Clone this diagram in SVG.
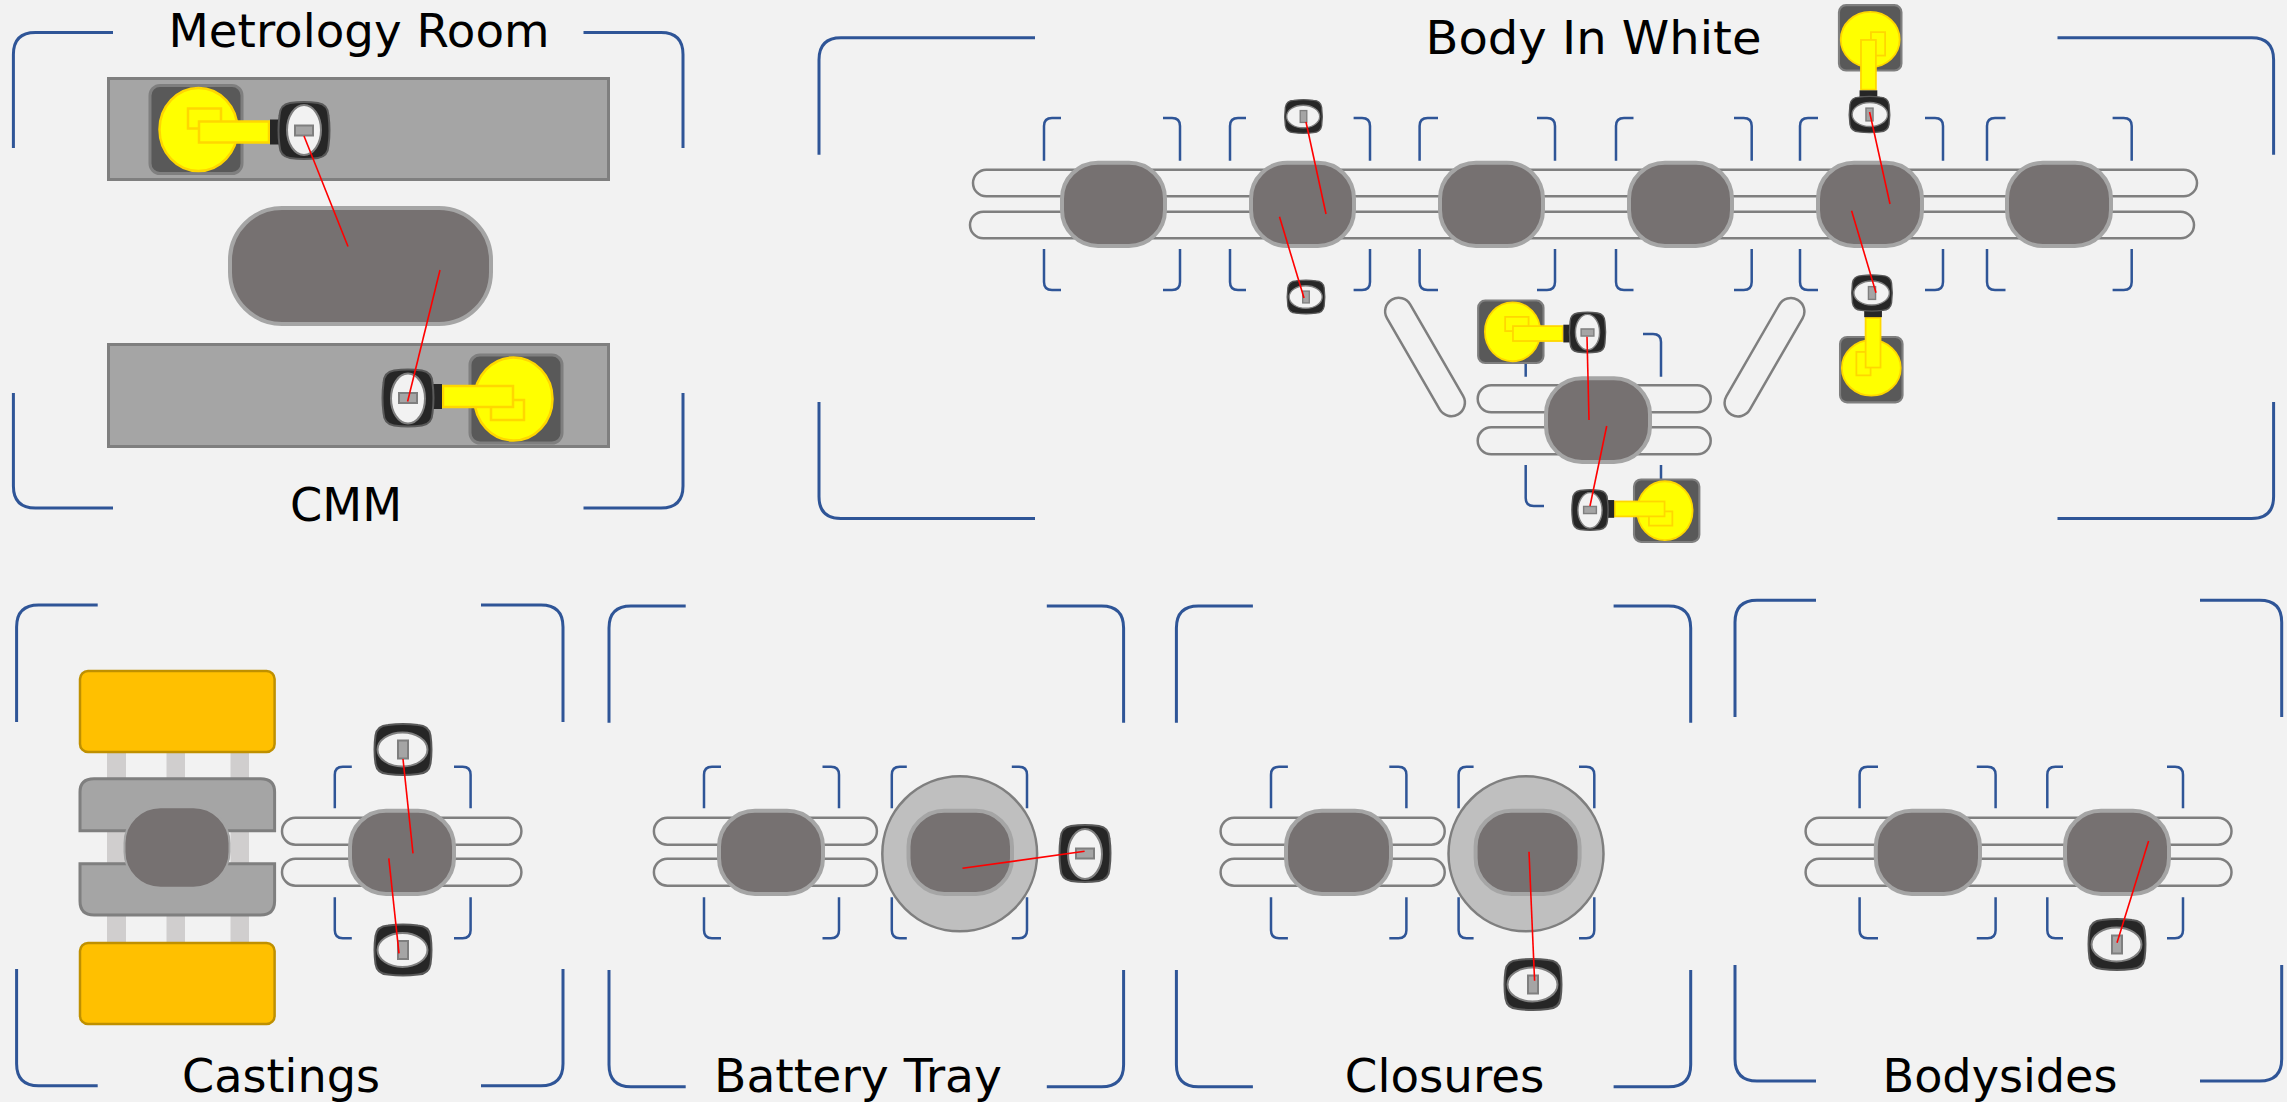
<svg xmlns="http://www.w3.org/2000/svg" width="2287" height="1102" viewBox="0 0 2287 1102">
<style>
.frame{fill:none;stroke:#2f5597;stroke-width:3}
.br{fill:none;stroke:#2f5597;stroke-width:2.5}
.rail{fill:#f2f2f2;stroke:#7f7f7f;stroke-width:2.5}
.cell{fill:#767171;stroke:#a5a5a5;stroke-width:4}
.plate{fill:#a5a5a5;stroke:#7f7f7f;stroke-width:3}
.turn{fill:#bfbfbf;stroke:#7f7f7f;stroke-width:2.5}
.orange{fill:#ffc000;stroke:#bf9000;stroke-width:2.5}
.stem{fill:#d0cece}
.link{stroke:#f00;stroke-width:1.6;fill:none}
.t{font-family:"DejaVu Sans","Noto Sans",sans-serif;font-size:47px;fill:#000}
.hb{fill:#262626;stroke:#595959;stroke-width:2}
.he{fill:#f2f2f2;stroke:#7f7f7f;stroke-width:2}
.hr{fill:#a5a5a5;stroke:#7f7f7f;stroke-width:2}
.ba{fill:#595959;stroke:#7f7f7f;stroke-width:3}
.ye{fill:#ff0;stroke:#ffd700;stroke-width:2.5}
.co{fill:#262626}
</style>
<defs>
<g id="head">
<path class="hb" d="M-14-27.500Q0-29.500 14-27.500Q24-26 24.500-15Q26.500 0 24.500 15Q24 26 14 27.500Q0 29.500-14 27.500Q-24 26-24.500 15Q-26.500 0-24.500-15Q-24-26-14-27.500Z"/>
<ellipse class="he" cx="0" cy="0.500" rx="17" ry="25"/>
<rect class="hr" x="-9" y="-5" width="18" height="10"/>
</g>
<g id="arm">
<rect class="ba" x="62" y="-43" width="92" height="88" rx="10"/>
<ellipse class="ye" cx="105.500" cy="1" rx="39" ry="41.500"/>
<rect class="ye" x="83" y="2" width="33" height="20" style="fill:none"/>
<rect class="ye" x="35" y="-12" width="70" height="21"/>
<rect class="co" x="25" y="-14" width="9" height="25"/>
<use href="#head"/>
</g>
</defs>
<rect width="2287" height="1102" fill="#f2f2f2"/>

<g id="metrology-room">
<path class="frame" d="M113 32.400H35.400Q13.400 32.400 13.400 54.400V148M583.500 32.400H661Q683 32.400 683 54.400V148M13.400 393V486Q13.400 508 35.400 508H113M683 393V486Q683 508 661 508H583.500"/>
<rect class="plate" x="108.500" y="78.500" width="500" height="101"/>
<rect class="plate" x="108.500" y="344.500" width="500" height="102"/>
<rect class="cell" x="230" y="208" width="261" height="116" rx="52"/>
<use href="#arm" transform="translate(304 130.500) rotate(180)"/>
<use href="#arm" transform="translate(408 398)"/>
<text class="t" x="168.500" y="46.500" textLength="381" lengthAdjust="spacingAndGlyphs">Metrology Room</text>
<text class="t" x="290" y="520.600" textLength="112" lengthAdjust="spacingAndGlyphs">CMM</text>
</g>

<g id="body-in-white">
<path class="frame" d="M1035 37.700H841Q819 37.700 819 59.700V154.700M2057.500 37.700H2251.600Q2273.600 37.700 2273.600 59.700V154.700M819 402V496.500Q819 518.500 841 518.500H1035M2273.600 402V496.500Q2273.600 518.500 2251.600 518.500H2057.500"/>
<rect class="rail" x="973" y="169.700" width="1224" height="26.600" rx="13.300"/>
<rect class="rail" x="970" y="211.700" width="1224" height="26.600" rx="13.300"/>
<path class="br" d="M1061 118H1052Q1044 118 1044 126V160.700M1163 118H1172Q1180 118 1180 126V160.700M1044 249V282Q1044 290 1052 290H1061M1180 249V282Q1180 290 1172 290H1163"/>
<path class="br" d="M1246 118H1238Q1230 118 1230 126V160.700M1353.600 118H1362Q1370 118 1370 126V160.700M1230 249V282Q1230 290 1238 290H1246M1370 249V282Q1370 290 1362 290H1353.600"/>
<path class="br" d="M1438 118H1427.600Q1419.600 118 1419.600 126V160.700M1537 118H1547Q1555 118 1555 126V160.700M1419.600 249V282Q1419.600 290 1427.600 290H1438M1555 249V282Q1555 290 1547 290H1537"/>
<path class="br" d="M1633.500 118H1624Q1616 118 1616 126V160.700M1734 118H1743.700Q1751.700 118 1751.700 126V160.700M1616 249V282Q1616 290 1624 290H1633.500M1751.700 249V282Q1751.700 290 1743.700 290H1734"/>
<path class="br" d="M1818 118H1808Q1800 118 1800 126V160.700M1925 118H1935Q1943 118 1943 126V160.700M1800 249V282Q1800 290 1808 290H1818M1943 249V282Q1943 290 1935 290H1925"/>
<path class="br" d="M2005.500 118H1995Q1987 118 1987 126V160.700M2112.600 118H2123.700Q2131.700 118 2131.700 126V160.700M1987 249V282Q1987 290 1995 290H2005.500M2131.700 249V282Q2131.700 290 2123.700 290H2112.600"/>
<rect id="biw-cell-1" class="cell" x="1062" y="162.700" width="103" height="83.300" rx="36"/>
<rect id="biw-cell-2" class="cell" x="1251" y="162.700" width="103" height="83.300" rx="36"/>
<rect id="biw-cell-3" class="cell" x="1440" y="162.700" width="103" height="83.300" rx="36"/>
<rect id="biw-cell-4" class="cell" x="1629" y="162.700" width="103" height="83.300" rx="36"/>
<rect id="biw-cell-5" class="cell" x="1818" y="162.700" width="104" height="83.300" rx="36"/>
<rect id="biw-cell-6" class="cell" x="2007" y="162.700" width="104" height="83.300" rx="36"/>
<use href="#head" transform="translate(1303.500 116.500) rotate(90) scale(.66)"/>
<use href="#head" transform="translate(1306 297) rotate(90) scale(.66)"/>
<use href="#arm" transform="translate(1869.500 114.500) rotate(-90) scale(.71)"/>
<use href="#arm" transform="translate(1872 293) rotate(90) scale(.71)"/>
<rect class="rail" x="-66.250" y="-13.500" width="132.500" height="27" rx="13.500" transform="translate(1425 357) rotate(60)"/>
<rect class="rail" x="-66.250" y="-13.500" width="132.500" height="27" rx="13.500" transform="translate(1764.500 357.200) rotate(-60)"/>
<rect class="rail" x="1477.700" y="385.300" width="233" height="27" rx="13.500"/>
<rect class="rail" x="1477.700" y="427.300" width="233" height="27" rx="13.500"/>
<path class="br" d="M1544 334H1533.700Q1525.700 334 1525.700 342V376.700M1643 334H1653Q1661 334 1661 342V376.700M1525.700 465V498Q1525.700 506 1533.700 506H1544M1661 465V498Q1661 506 1653 506H1643"/>
<rect id="biw-cell-7" class="cell" x="1546" y="378.300" width="104" height="83.700" rx="36"/>
<use href="#arm" transform="translate(1587.500 332.500) rotate(180) scale(.71)"/>
<use href="#arm" transform="translate(1590 510) scale(.71)"/>
<text class="t" x="1425.500" y="54.300" textLength="336" lengthAdjust="spacingAndGlyphs">Body In White</text>
</g>

<g id="castings">
<path class="frame" d="M97.700 605H38.600Q16.600 605 16.600 627V722M481 605H541Q563 605 563 627V722M16.600 969V1063.700Q16.600 1085.700 38.600 1085.700H97.700M563 969V1063.700Q563 1085.700 541 1085.700H481"/>
<rect class="stem" x="107" y="753" width="19" height="189"/>
<rect class="stem" x="166.500" y="753" width="18.500" height="189"/>
<rect class="stem" x="230.500" y="753" width="18.500" height="189"/>
<rect class="orange" x="80" y="671" width="194.600" height="81" rx="8"/>
<rect class="orange" x="80" y="943" width="194.600" height="81" rx="8"/>
<path class="plate" d="M80 830.700V792Q80 778.700 94 778.700H260.600Q274.600 778.700 274.600 792V830.700Z"/>
<path class="plate" d="M80 863.700V901Q80 915 94 915H260.600Q274.600 915 274.600 901V863.700Z"/>
<rect class="cell" x="124.500" y="807.200" width="105" height="80.600" rx="36" style="stroke-width:2"/>
<rect class="rail" x="282" y="817.700" width="239.400" height="27" rx="13.500"/>
<rect class="rail" x="282" y="858.700" width="239.400" height="27" rx="13.500"/>
<path class="br" d="M351.800 766.700H342.800Q334.800 766.700 334.800 774.700V808.300M454 766.700H462.600Q470.600 766.700 470.600 774.700V808.300M334.800 897.300V930.300Q334.800 938.300 342.800 938.300H351.800M470.600 897.300V930.300Q470.600 938.300 462.600 938.300H454"/>
<rect class="cell" x="350" y="810.700" width="104" height="83.300" rx="36"/>
<use href="#head" transform="translate(403 749.500) rotate(90)"/>
<use href="#head" transform="translate(403 950) rotate(90)"/>
<text class="t" x="182" y="1091.700" textLength="198" lengthAdjust="spacingAndGlyphs">Castings</text>
</g>

<g id="battery-tray">
<path class="frame" d="M685.700 606H631Q609 606 609 628V722.700M1046.800 606H1101.600Q1123.600 606 1123.600 628V722.700M609 970V1064.700Q609 1086.700 631 1086.700H685.700M1123.600 970V1064.700Q1123.600 1086.700 1101.600 1086.700H1046.800"/>
<rect class="rail" x="653.900" y="817.700" width="223" height="27" rx="13.500"/>
<rect class="rail" x="653.900" y="858.700" width="223" height="27" rx="13.500"/>
<path class="br" d="M721 766.700H712Q704 766.700 704 774.700V808.300M822.500 766.700H831Q839 766.700 839 774.700V808.300M704 897.300V930.300Q704 938.300 712 938.300H721M839 897.300V930.300Q839 938.300 831 938.300H822.500"/>
<rect class="cell" x="719" y="810.700" width="104" height="83.300" rx="36"/>
<path class="br" d="M906.800 766.700H899.800Q891.800 766.700 891.800 774.700V808.300M1011.800 766.700H1019Q1027 766.700 1027 774.700V808.300M891.800 897.300V930.300Q891.800 938.300 899.800 938.300H906.800M1027 897.300V930.300Q1027 938.300 1019 938.300H1011.800"/>
<ellipse class="turn" cx="959.700" cy="853.800" rx="77.400" ry="77.500"/>
<rect class="cell" x="908.500" y="810.700" width="103.500" height="83.300" rx="36"/>
<use href="#head" transform="translate(1085 853.500)"/>
<text class="t" x="714" y="1091.700" textLength="288" lengthAdjust="spacingAndGlyphs">Battery Tray</text>
</g>

<g id="closures">
<path class="frame" d="M1252.900 606H1198.400Q1176.400 606 1176.400 628V722.700M1613.600 606H1668.700Q1690.700 606 1690.700 628V722.700M1176.400 970V1064.700Q1176.400 1086.700 1198.400 1086.700H1252.900M1690.700 970V1064.700Q1690.700 1086.700 1668.700 1086.700H1613.600"/>
<rect class="rail" x="1220.600" y="817.700" width="224.100" height="27" rx="13.500"/>
<rect class="rail" x="1220.600" y="858.700" width="224.100" height="27" rx="13.500"/>
<path class="br" d="M1287.900 766.700H1279Q1271 766.700 1271 774.700V808.300M1389.300 766.700H1398.400Q1406.400 766.700 1406.400 774.700V808.300M1271 897.300V930.300Q1271 938.300 1279 938.300H1287.900M1406.400 897.300V930.300Q1406.400 938.300 1398.400 938.300H1389.300"/>
<rect class="cell" x="1286" y="810.700" width="105" height="83.300" rx="36"/>
<path class="br" d="M1473.600 766.700H1466.600Q1458.600 766.700 1458.600 774.700V808.300M1579 766.700H1586.300Q1594.300 766.700 1594.300 774.700V808.300M1458.600 897.300V930.300Q1458.600 938.300 1466.600 938.300H1473.600M1594.300 897.300V930.300Q1594.300 938.300 1586.300 938.300H1579"/>
<ellipse class="turn" cx="1526" cy="853.800" rx="77.500" ry="77.500"/>
<rect class="cell" x="1475.600" y="810.700" width="104" height="83.300" rx="36"/>
<use href="#head" transform="translate(1533 984.500) rotate(90)"/>
<text class="t" x="1344.800" y="1091.700" textLength="199.500" lengthAdjust="spacingAndGlyphs">Closures</text>
</g>

<g id="bodysides">
<path class="frame" d="M1816 600.300H1757Q1735 600.300 1735 622.300V717M2200 600.300H2259.700Q2281.700 600.300 2281.700 622.300V717M1735 965V1059Q1735 1081 1757 1081H1816M2281.700 965V1059Q2281.700 1081 2259.700 1081H2200"/>
<rect class="rail" x="1805.600" y="817.700" width="425.900" height="27" rx="13.500"/>
<rect class="rail" x="1805.600" y="858.700" width="425.900" height="27" rx="13.500"/>
<path class="br" d="M1878 766.700H1867.600Q1859.600 766.700 1859.600 774.700V808.300M1976.800 766.700H1987.600Q1995.600 766.700 1995.600 774.700V808.300M1859.600 897.300V930.300Q1859.600 938.300 1867.600 938.300H1878M1995.600 897.300V930.300Q1995.600 938.300 1987.600 938.300H1976.800"/>
<rect class="cell" x="1875.800" y="810.700" width="104.200" height="83.300" rx="36"/>
<path class="br" d="M2063 766.700H2055.300Q2047.300 766.700 2047.300 774.700V808.300M2167 766.700H2175Q2183 766.700 2183 774.700V808.300M2047.300 897.300V930.300Q2047.300 938.300 2055.300 938.300H2063M2183 897.300V930.300Q2183 938.300 2175 938.300H2167"/>
<rect class="cell" x="2065" y="810.700" width="104" height="83.300" rx="36"/>
<use href="#head" transform="translate(2117 944.500) rotate(90)"/>
<text class="t" x="1882.500" y="1091.700" textLength="235" lengthAdjust="spacingAndGlyphs">Bodysides</text>
</g>

<g id="connectors">
<line class="link" x1="304" y1="136" x2="348" y2="246.500"/>
<line class="link" x1="440" y1="270" x2="407.600" y2="401.500"/>
<line class="link" x1="1306" y1="122" x2="1326" y2="214"/>
<line class="link" x1="1279.500" y1="216.700" x2="1304" y2="298"/>
<line class="link" x1="1869.600" y1="112" x2="1890" y2="204"/>
<line class="link" x1="1851.600" y1="210.700" x2="1876" y2="292.700"/>
<line class="link" x1="1587" y1="336.700" x2="1589" y2="420"/>
<line class="link" x1="1606.700" y1="426" x2="1590" y2="506"/>
<line class="link" x1="403" y1="759" x2="413" y2="853.300"/>
<line class="link" x1="388.800" y1="858.300" x2="399" y2="953.300"/>
<line class="link" x1="962.500" y1="868.300" x2="1084.600" y2="851.300"/>
<line class="link" x1="1529" y1="851.700" x2="1534.600" y2="980.700"/>
<line class="link" x1="2148.600" y1="841" x2="2117" y2="942.700"/>
</g>
</svg>
